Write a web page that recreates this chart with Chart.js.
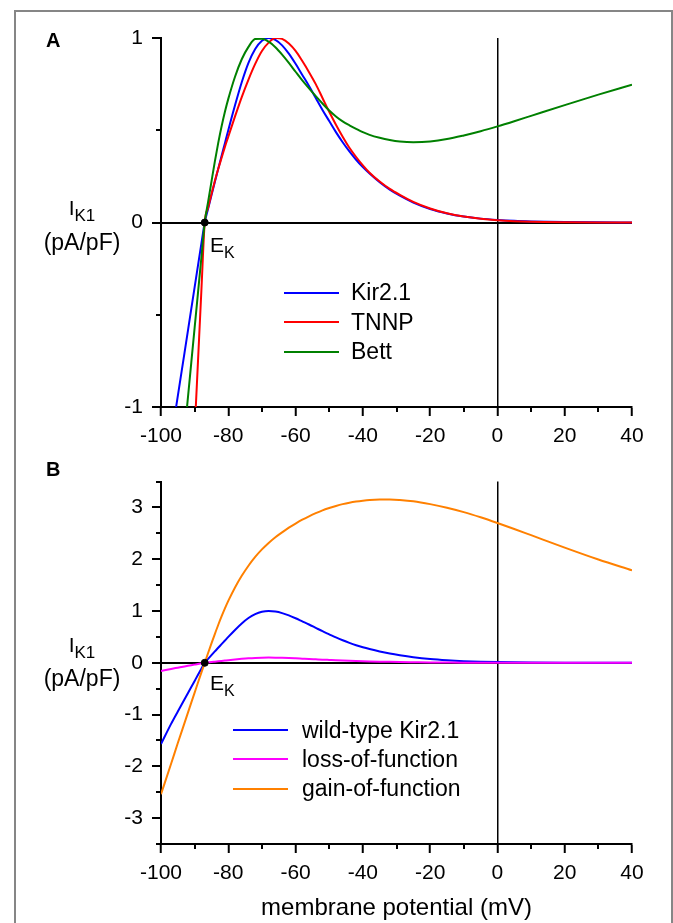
<!DOCTYPE html>
<html>
<head>
<meta charset="utf-8">
<script src="https://cdn.jsdelivr.net/npm/chart.js@4.4.1/dist/chart.umd.min.js"></script>
<style>
  html, body { margin: 0; padding: 0; overflow: hidden; background: #fff; }
  body { width: 673px; height: 923px; position: relative; font-family: 'Liberation Sans', Arial, sans-serif; color: #000; }
  #moldura { position: absolute; left: 14px; top: 10px; width: 655px; height: 960px; border: 2px solid #868686; }
  canvas { position: absolute; left: 0; }
  #graficoA { top: 0; }
  #graficoB { top: 460px; }
  .txt { position: absolute; line-height: 1; white-space: nowrap; }
  .painel { font-weight: bold; font-size: 20px; left: 46px; }
  .eixoY { left: 22px; width: 120px; text-align: center; }
  .sub { position: relative; top: 6px; }
  .linhaLeg { position: absolute; height: 2px; width: 55px; }
  .textoLeg { position: absolute; font-size: 23px; line-height: 1; white-space: nowrap; }
</style>
</head>
<body>
<div id="moldura"></div>
<canvas id="graficoA" width="673" height="460"></canvas>
<canvas id="graficoB" width="673" height="463"></canvas>

<div class="txt painel" style="top:30px">A</div>
<div class="txt painel" style="top:459px">B</div>

<div class="txt eixoY" style="top:196.5px;font-size:21px">I<span class="sub" style="font-size:17px">K1</span></div>
<div class="txt eixoY" style="top:231px;font-size:23px">(pA/pF)</div>
<div class="txt eixoY" style="top:634px;font-size:21px">I<span class="sub" style="font-size:17px">K1</span></div>
<div class="txt eixoY" style="top:667px;font-size:23px">(pA/pF)</div>

<div class="txt" style="left:210px;top:234px;font-size:21px">E<span class="sub" style="font-size:16px">K</span></div>
<div class="txt" style="left:210px;top:672px;font-size:21px">E<span class="sub" style="font-size:16px">K</span></div>

<div id="legendaA"></div>
<div id="legendaB"></div>

<script>
// potencial de membrana (mV)
const tensoes = [-100, -97, -95, -93, -91, -90, -89, -88, -87, -86, -85, -84, -83, -82, -81, -80,
  -78, -76, -74, -72, -70, -68, -66, -64, -62, -60, -58, -56, -54, -52, -50, -48, -46, -44, -42, -40,
  -38, -35, -32, -29, -25, -20, -15, -10, -5, 0, 5, 10, 20, 30, 40];

// painel A (normalizado)
const kir21 = [-1.57, -1.18, -0.94, -0.705, -0.468, -0.35, -0.232, -0.115, 0, 0.075, 0.148, 0.22, 0.29, 0.36, 0.43, 0.50,
  0.635, 0.76, 0.865, 0.94, 0.985, 1.0, 0.99, 0.96, 0.915, 0.86, 0.80, 0.74, 0.675, 0.61, 0.55, 0.49, 0.435, 0.385, 0.34, 0.30,
  0.265, 0.218, 0.178, 0.145, 0.108, 0.073, 0.049, 0.032, 0.021, 0.014, 0.009, 0.006, 0.0025, 0.001, 0.0004];
const tnnp = [-5.5, -4.1, -3.2, -2.35, -1.52, -1.13, -0.75, -0.37, 0, 0.08, 0.155, 0.225, 0.29, 0.35, 0.41, 0.465,
  0.575, 0.68, 0.775, 0.86, 0.93, 0.975, 1.0, 0.995, 0.97, 0.93, 0.875, 0.815, 0.75, 0.675, 0.60, 0.53, 0.465, 0.405, 0.355, 0.31,
  0.27, 0.222, 0.182, 0.15, 0.112, 0.076, 0.05, 0.032, 0.02, 0.012, 0.007, 0.004, 0.0015, 0.0005, 0.0002];
const bett = [-2.5, -1.9, -1.52, -1.14, -0.76, -0.57, -0.38, -0.19, 0, 0.112, 0.222, 0.33, 0.43, 0.52, 0.60, 0.67,
  0.79, 0.885, 0.952, 0.995, 0.996, 0.98, 0.95, 0.91, 0.865, 0.817, 0.77, 0.727, 0.685, 0.645, 0.607, 0.575, 0.548, 0.527, 0.508, 0.49,
  0.475, 0.459, 0.447, 0.439, 0.435, 0.439, 0.452, 0.472, 0.495, 0.521, 0.549, 0.578, 0.636, 0.693, 0.747];

// painel B (pA/pF)
const tipoSelvagem = kir21;
const perdaFuncao = [-0.157, -0.118, -0.094, -0.07, -0.047, -0.035, -0.023, -0.0115, 0, 0.0075, 0.015, 0.022, 0.029, 0.036, 0.043, 0.05,
  0.0635, 0.076, 0.0865, 0.094, 0.0985, 0.1, 0.099, 0.096, 0.0915, 0.086, 0.08, 0.074, 0.0675, 0.061, 0.055, 0.049, 0.0435, 0.0385, 0.034, 0.03,
  0.0265, 0.022, 0.018, 0.0145, 0.011, 0.007, 0.005, 0.003, 0.002, 0.0014, 0.0009, 0.0006, 0.0003, 0.0001, 0];
const ganhoFuncao = [-2.54, -1.95, -1.55, -1.16, -0.77, -0.575, -0.38, -0.19, 0, 0.19, 0.375, 0.555, 0.73, 0.895, 1.05, 1.195,
  1.455, 1.68, 1.875, 2.045, 2.19, 2.315, 2.425, 2.52, 2.61, 2.69, 2.765, 2.83, 2.89, 2.945, 2.99, 3.03, 3.065, 3.093, 3.115, 3.132,
  3.145, 3.155, 3.155, 3.145, 3.12, 3.065, 2.995, 2.91, 2.81, 2.70, 2.585, 2.465, 2.225, 1.995, 1.785];

const EK = -87;

const ticksX = [-100, -80, -60, -40, -20, 0, 20, 40];
const ticksMenoresX = [-90, -70, -50, -30, -10, 10, 30];
const ticksYA = [-1, 0, 1];
const ticksMenoresYA = [-0.5, 0.5];
const ticksYB = [-3, -2, -1, 0, 1, 2, 3];
const ticksMenoresYB = [-3.5, -2.5, -1.5, -0.5, 0.5, 1.5, 2.5, 3.5];

const fonte = "'Liberation Sans', Arial, sans-serif";

function pontos(valores) {
  return tensoes.map((v, i) => ({ x: v, y: valores[i] }));
}

function serie(label, valores, cor, ordem) {
  return {
    label: label,
    data: pontos(valores),
    borderColor: cor,
    backgroundColor: cor,
    borderWidth: 2,
    pointRadius: 0,
    cubicInterpolationMode: 'monotone',
    order: ordem
  };
}

function pontoEK() {
  return {
    label: '',
    data: [{ x: EK, y: 0 }],
    showLine: false,
    pointRadius: 3.5,
    pointBackgroundColor: '#000',
    pointBorderColor: '#000',
    order: 0
  };
}

// tracinhos menores dos eixos
const ticksMenores = {
  id: 'ticksMenores',
  afterDraw(chart, args, opts) {
    const ctx = chart.ctx;
    const x = chart.scales.x;
    const y = chart.scales.y;
    ctx.save();
    ctx.strokeStyle = '#000';
    ctx.lineWidth = 2;
    ctx.beginPath();
    opts.x.forEach(v => {
      const px = Math.round(x.getPixelForValue(v));
      ctx.moveTo(px, chart.chartArea.bottom);
      ctx.lineTo(px, chart.chartArea.bottom + 5);
    });
    opts.y.forEach(v => {
      const py = Math.round(y.getPixelForValue(v));
      ctx.moveTo(chart.chartArea.left, py);
      ctx.lineTo(chart.chartArea.left - 5, py);
    });
    ctx.stroke();
    ctx.restore();
  }
};

function corZero(c) {
  return c.tick && c.tick.value === 0 ? '#000' : 'rgba(0,0,0,0)';
}

function opcoes(minY, maxY, ticksY, menoresY, altX, topo, titulo) {
  return {
    responsive: false,
    animation: false,
    layout: { padding: { left: 0, top: topo, right: 41, bottom: 0 } },
    plugins: {
      legend: { display: false },
      tooltip: { enabled: false },
      ticksMenores: { x: ticksMenoresX, y: menoresY }
    },
    scales: {
      x: {
        type: 'linear',
        min: -100,
        max: 40,
        afterBuildTicks: s => { s.ticks = ticksX.map(v => ({ value: v })); },
        afterFit: s => { s.height = altX; },
        border: { display: true, color: '#000', width: 2 },
        grid: { color: corZero, lineWidth: 1.5, tickColor: '#000', tickWidth: 2, tickLength: 9 },
        ticks: { autoSkip: false, maxRotation: 0, padding: 8, color: '#000', font: { family: fonte, size: 21 } },
        title: {
          display: !!titulo,
          text: titulo || '',
          color: '#000',
          font: { family: fonte, size: 24, lineHeight: 1 },
          padding: { top: 0, bottom: 3 }
        }
      },
      y: {
        min: minY,
        max: maxY,
        afterBuildTicks: s => { s.ticks = ticksY.map(v => ({ value: v })); },
        afterFit: s => { s.width = 161; },
        border: { display: true, color: '#000', width: 2 },
        grid: { color: corZero, lineWidth: 2, tickColor: '#000', tickWidth: 2, tickLength: 9 },
        ticks: { padding: 9, color: '#000', font: { family: fonte, size: 21 } }
      }
    }
  };
}

const graficoA = new Chart(document.getElementById('graficoA'), {
  type: 'line',
  data: {
    datasets: [
      serie('Kir2.1', kir21, '#0000ff', 3),
      serie('TNNP', tnnp, '#ff0000', 2),
      serie('Bett', bett, '#008000', 1),
      pontoEK()
    ]
  },
  options: opcoes(-1, 1, ticksYA, ticksMenoresYA, 53, 38, null),
  plugins: [ticksMenores]
});

const graficoB = new Chart(document.getElementById('graficoB'), {
  type: 'line',
  data: {
    datasets: [
      serie('wild-type Kir2.1', tipoSelvagem, '#0000ff', 3),
      serie('loss-of-function', perdaFuncao, '#ff00ff', 1),
      serie('gain-of-function', ganhoFuncao, '#ff8000', 2),
      pontoEK()
    ]
  },
  options: opcoes(-3.5, 3.5, ticksYB, ticksMenoresYB, 79, 14, 'membrane potential (mV)'),
  plugins: [ticksMenores]
});

// legenda em html a partir dos datasets
function gerarLegenda(grafico, id, xLinha, xTexto, ys) {
  const caixa = document.getElementById(id);
  grafico.data.datasets.filter(d => d.label).forEach((d, i) => {
    const linha = document.createElement('div');
    linha.className = 'linhaLeg';
    linha.style.left = xLinha + 'px';
    linha.style.top = (ys[i] - 1) + 'px';
    linha.style.background = d.borderColor;
    caixa.appendChild(linha);
    const texto = document.createElement('div');
    texto.className = 'textoLeg';
    texto.style.left = xTexto + 'px';
    texto.style.top = (ys[i] - 11.2) + 'px';
    texto.textContent = d.label;
    caixa.appendChild(texto);
  });
}

gerarLegenda(graficoA, 'legendaA', 284, 351, [292.5, 322, 351.5]);
gerarLegenda(graficoB, 'legendaB', 233, 302, [730, 759, 788.5]);
</script>
</body>
</html>
